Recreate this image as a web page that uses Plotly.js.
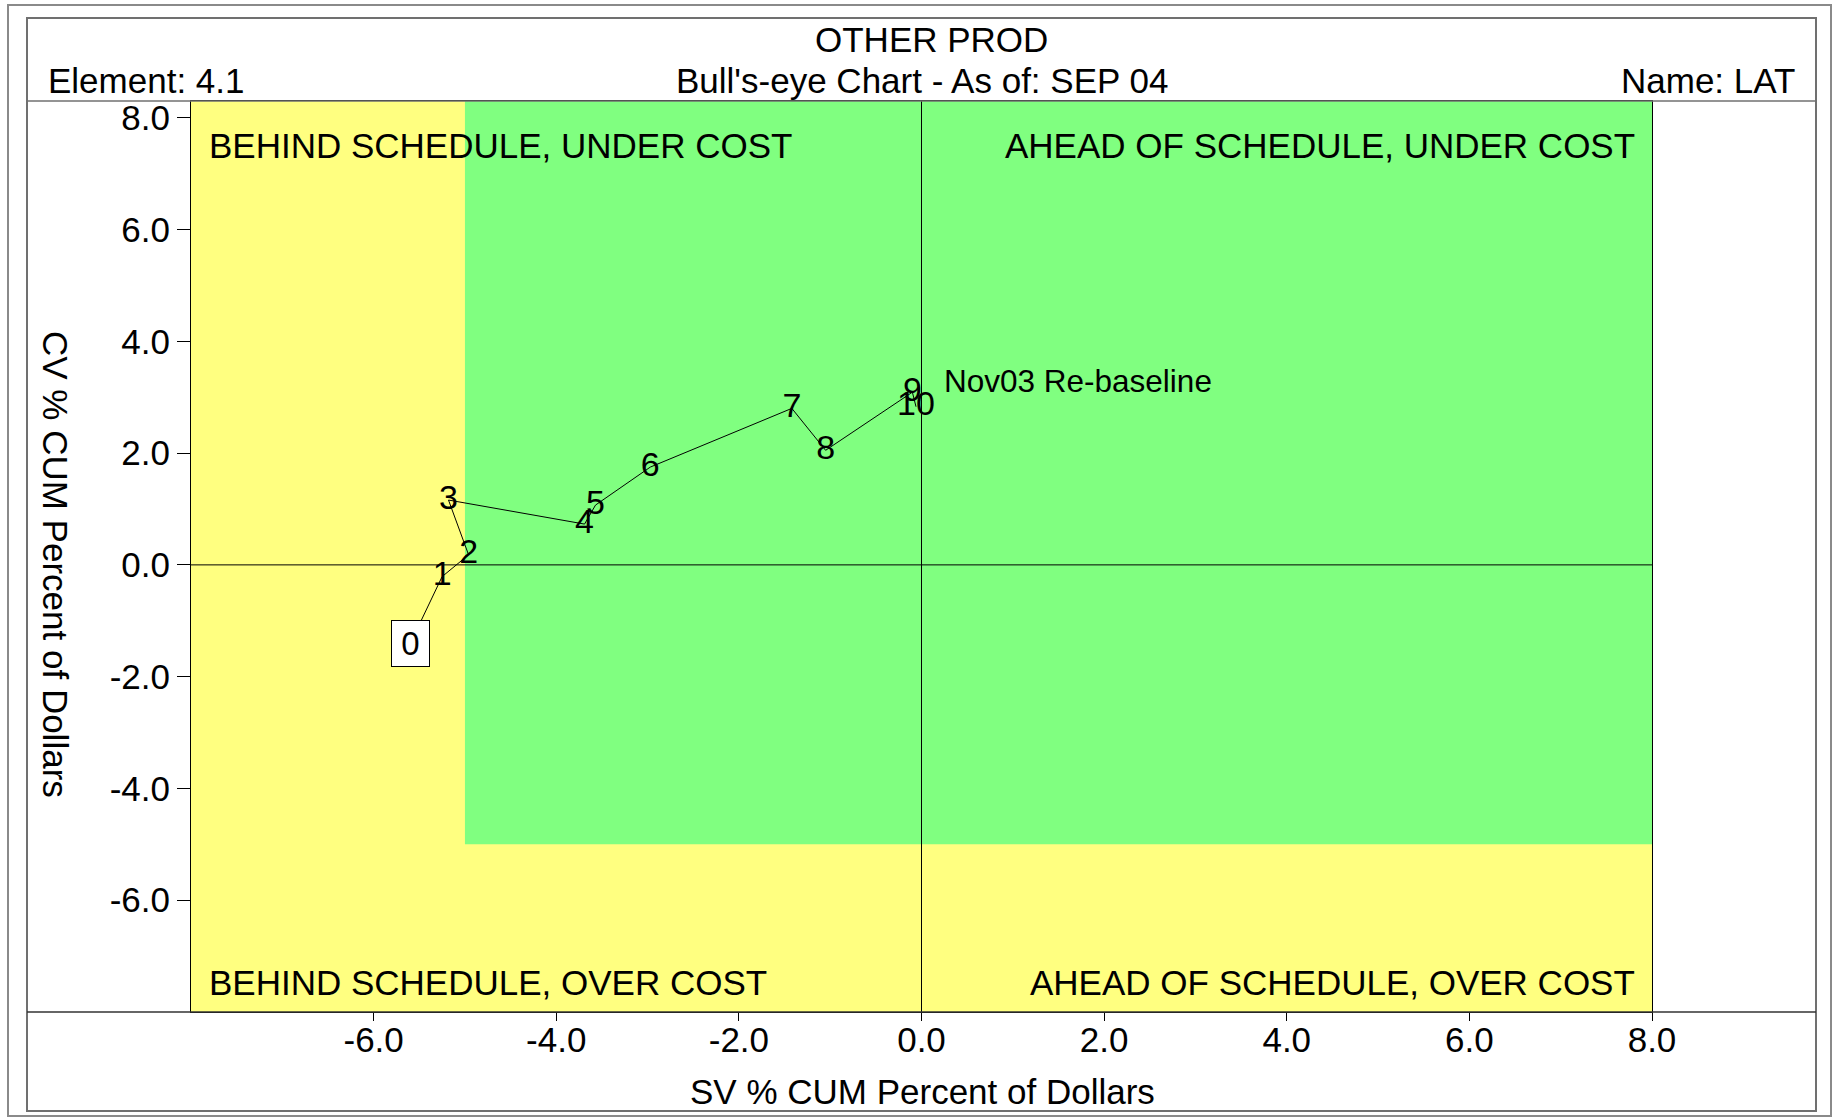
<!DOCTYPE html>
<html>
<head>
<meta charset="utf-8">
<script src="https://cdn.plot.ly/plotly-3.0.1.min.js"></script>
<style>
html,body{margin:0;padding:0;background:#fff;}
#chart{width:1835px;height:1118px;}
</style>
</head>
<body>
<div id="chart"></div>
<script>
// ---- data ----
const pointLabels = ["0","1","2","3","4","5","6","7","8","9","10"];
const svPct = [-5.60, -5.25, -4.96, -5.18, -3.69, -3.57, -2.97, -1.42, -1.05, -0.10, -0.06];
const cvPct = [-1.41, -0.21, 0.18, 1.16, 0.73, 1.07, 1.75, 2.80, 2.05, 3.09, 2.83];
const xTickVals = [-6, -4, -2, 0, 2, 4, 6, 8];
const xTickText = ["-6.0","-4.0","-2.0","0.0","2.0","4.0","6.0","8.0"];
const yTickVals = [-6, -4, -2, 0, 2, 4, 6, 8];
const yTickText = ["-6.0","-4.0","-2.0","0.0","2.0","4.0","6.0","8.0"];
const quadrantText = ["BEHIND SCHEDULE, UNDER COST","AHEAD OF SCHEDULE, UNDER COST","BEHIND SCHEDULE, OVER COST","AHEAD OF SCHEDULE, OVER COST"];
const titleMain = "OTHER PROD";
const titleSub = "Bull's-eye Chart - As of: SEP 04";
const elementText = "Element: 4.1";
const nameText = "Name: LAT";
const noteText = "Nov03 Re-baseline";
const xTitle = "SV % CUM Percent of Dollars";
const yTitle = "CV % CUM Percent of Dollars";

// ---- layout helpers ----
const W = 1835, H = 1118;
const M = {l:191, r:183, t:101, b:106};
const PW = W - M.l - M.r, PH = H - M.t - M.b;
const px = v => (v - M.l) / PW;
const py = v => (H - M.b - v) / PH;
const FONT = "Liberation Sans, Arial, Helvetica, sans-serif";
const FS = 35;
const XR = [-8, 8], YR = [-8, 8.3];

const trace = {
  x: svPct, y: cvPct,
  mode: "lines+text",
  type: "scatter",
  text: pointLabels.map((t,i) => i === 0 ? "" : t),
  textposition: "middle center",
  textfont: {family: FONT, size: 34, color: "#000"},
  line: {color: "#000", width: 1},
  cliponaxis: false,
  hoverinfo: "x+y"
};

const shapes = [
  // frames
  {type:"rect", xref:"paper", yref:"paper", x0:px(8), x1:px(1831), y0:py(5), y1:py(1116), line:{color:"#8a8a8a", width:2}},
  {type:"rect", xref:"paper", yref:"paper", x0:px(27), x1:px(1816), y0:py(18), y1:py(1111), line:{color:"#707070", width:2}},
  // background zones
  {type:"rect", xref:"x", yref:"y", x0:XR[0], x1:XR[1], y0:YR[0], y1:YR[1], fillcolor:"#FFFF80", line:{width:0}, layer:"below"},
  {type:"rect", xref:"x", yref:"y", x0:-5, x1:XR[1], y0:-5, y1:YR[1], fillcolor:"#80FF80", line:{width:0}, layer:"below"},
  // zero lines
  {type:"line", xref:"x", yref:"y", x0:XR[0], x1:XR[1], y0:0, y1:0, line:{color:"#000", width:1}, layer:"below"},
  {type:"line", xref:"x", yref:"y", x0:0, x1:0, y0:YR[0], y1:YR[1], line:{color:"#000", width:1}, layer:"below"},
  // header and bottom rules spanning the frame
  {type:"line", xref:"paper", yref:"paper", x0:px(27), x1:px(1816), y0:1, y1:1, line:{color:"#707070", width:1.5}},
  {type:"line", xref:"paper", yref:"paper", x0:px(27), x1:px(1816), y0:0, y1:0, line:{color:"#333", width:1.5}}
];

const ann = (text, x, y, xanchor, size, extra) => Object.assign({
  text, x, y, xref:"paper", yref:"paper", xanchor, yanchor:"middle",
  showarrow:false, font:{family:FONT, size:size, color:"#000"}
}, extra || {});
const qann = (text, x, y, xanchor) => ({
  text, x, y, xref:"x", yref:"y", xanchor, yanchor:"middle", showarrow:false,
  font:{family:FONT, size:FS, color:"#000"}
});

const annotations = [
  ann(titleMain, px(931), py(40), "center", FS),
  ann(titleSub, px(922), py(81), "center", FS),
  ann(elementText, px(46), py(81), "left", FS),
  ann(nameText, px(1797), py(81), "right", FS),
  ann(xTitle, px(922), py(1091), "center", FS),
  ann(yTitle, px(56), py(564), "center", FS, {textangle: 90}),
  // quadrant labels (data coords)
  qann(quadrantText[0], -7.83, 7.5, "left"),
  qann(quadrantText[1], 7.84, 7.5, "right"),
  qann(quadrantText[2], -7.83, -7.47, "left"),
  qann(quadrantText[3], 7.84, -7.47, "right"),
  // note
  {text: noteText, x:0.22, y:3.29, xref:"x", yref:"y", xanchor:"left", yanchor:"middle", showarrow:false, font:{family:FONT,size:31.5,color:"#000"}},
  // boxed start point
  {text: pointLabels[0], x: svPct[0], y: cvPct[0], xref:"x", yref:"y", xanchor:"center", yanchor:"middle", showarrow:false,
   font:{family:FONT,size:33,color:"#000"}, bgcolor:"#fff", bordercolor:"#000", borderwidth:1, borderpad:0, width:37, height:45}
];

const layout = {
  width: W, height: H,
  margin: M,
  paper_bgcolor: "#fff",
  plot_bgcolor: "#fff",
  showlegend: false,
  font: {family: FONT, size: FS, color: "#000"},
  xaxis: {
    range: XR, tickvals: xTickVals, ticktext: xTickText,
    ticks: "outside", ticklen: 8, tickwidth: 1, tickcolor: "#000",
    ticklabelstandoff: -11,
    showgrid: false, zeroline: false,
    showline: true, mirror: true, linecolor: "#000", linewidth: 1,
    tickfont: {family: FONT, size: FS, color: "#000"},
    fixedrange: true
  },
  yaxis: {
    range: YR, tickvals: yTickVals, ticktext: yTickText,
    ticks: "outside", ticklen: 13, tickwidth: 1, tickcolor: "#000",
    showgrid: false, zeroline: false,
    showline: true, mirror: true, linecolor: "#000", linewidth: 1,
    tickfont: {family: FONT, size: FS, color: "#000"},
    fixedrange: true
  },
  shapes, annotations
};

Plotly.newPlot("chart", [trace], layout, {displayModeBar:false, staticPlot:true});
</script>
</body>
</html>
